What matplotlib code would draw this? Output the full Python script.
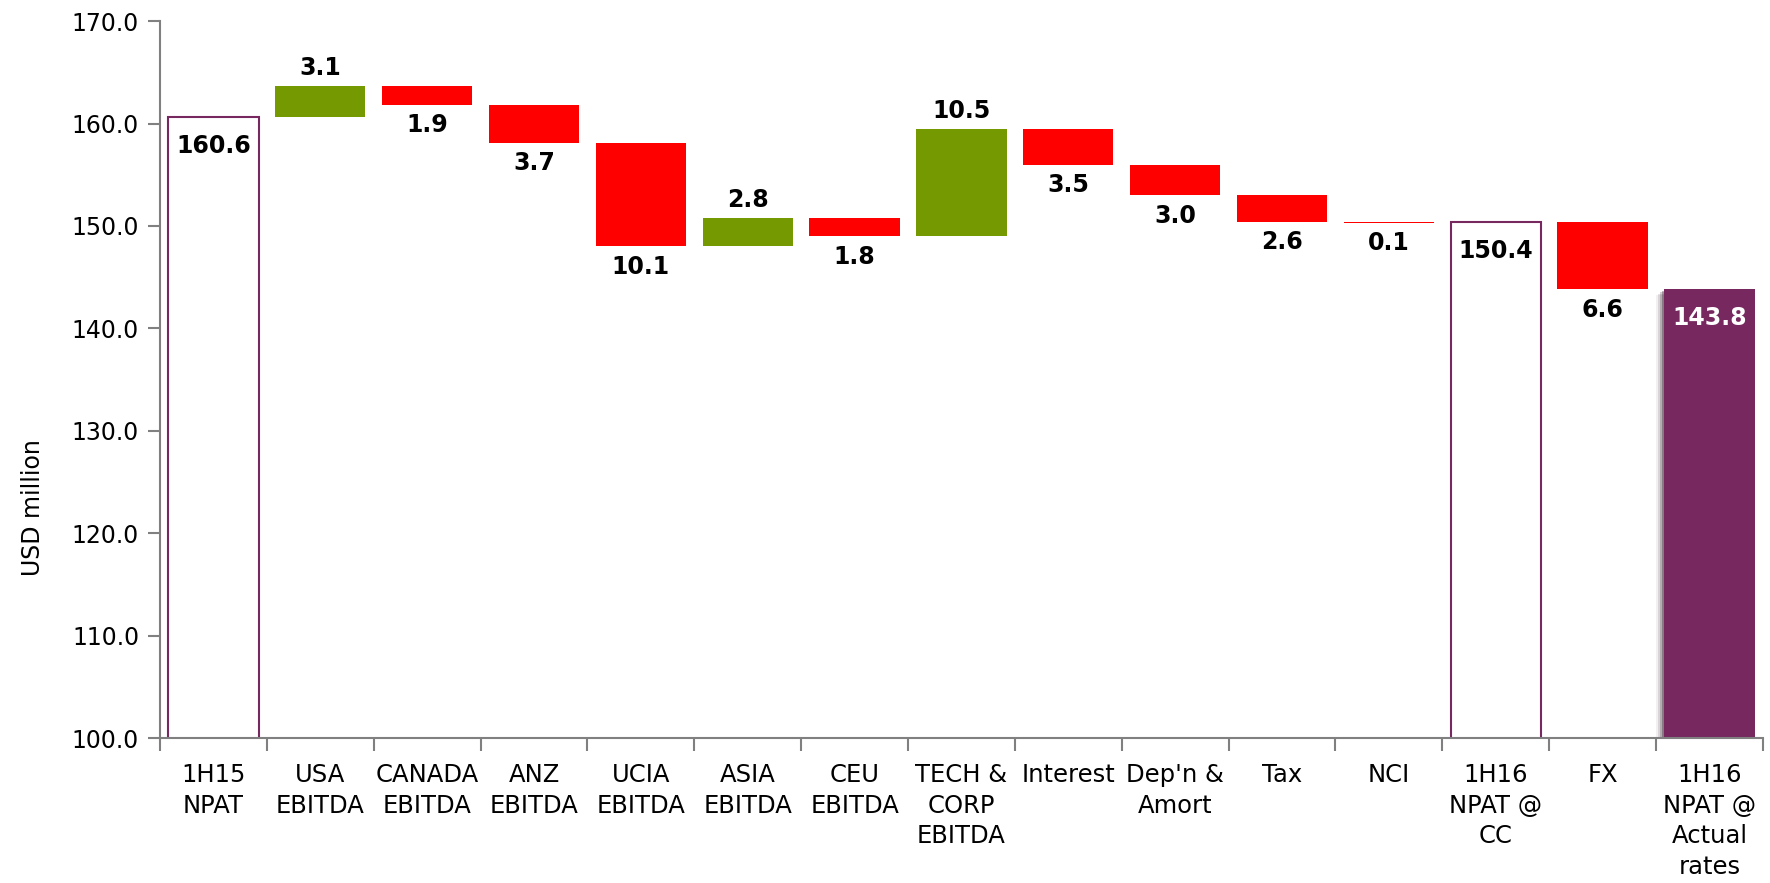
import numpy as np
import matplotlib.pyplot as plt
import matplotlib.patheffects as pe
from matplotlib.ticker import FixedLocator, FormatStrFormatter

# ---------------------------------------------------------------
# data: waterfall from 1H15 NPAT to 1H16 NPAT

categories = ["1H15\nNPAT", "USA\nEBITDA", "CANADA\nEBITDA", "ANZ\nEBITDA", "UCIA\nEBITDA",
              "ASIA\nEBITDA", "CEU\nEBITDA", "TECH &\nCORP\nEBITDA", "Interest", "Dep'n &\nAmort",
              "Tax", "NCI", "1H16\nNPAT @\nCC", "FX", "1H16\nNPAT @\nActual\nrates"]
values = [160.6, 3.1, -1.9, -3.7, -10.1, 2.8, -1.8, 10.5, -3.5, -3.0, -2.6, -0.1, 150.4, -6.6, 143.8]
kinds = ["total", "delta", "delta", "delta", "delta", "delta", "delta", "delta", "delta", "delta",
         "delta", "delta", "total", "delta", "final"]

GREEN = "#759900"
RED = "#FF0000"
PURPLE = "#76285F"

plt.rcParams['font.family'] = ['DejaVu Sans']

fig = plt.figure(figsize=(17.7, 8.83), dpi=100)
ax = fig.add_axes([0.0904, 0.1642, 0.9056, 0.8118])

x = np.arange(len(categories))
w = 0.845
running = 0.0
for i, (v, k) in enumerate(zip(values, kinds)):
    if k == "total":
        ax.bar(i, v, w, color="white", edgecolor=PURPLE, linewidth=1.5, zorder=2)
        ax.annotate("%.1f" % v, (i, v), xytext=(0, -12), textcoords="offset points",
                    ha="center", va="top", fontsize=17, fontweight="bold")
        running = v
    elif k == "final":
        # soft drop shadow on the left, like the original
        shadow = [pe.SimplePatchShadow(offset=(-1.5, -1), alpha=0.3),
                  pe.SimplePatchShadow(offset=(-3, -2), alpha=0.2),
                  pe.SimplePatchShadow(offset=(-4.5, -3), alpha=0.12),
                  pe.SimplePatchShadow(offset=(-6, -4), alpha=0.06),
                  pe.Normal()]
        ax.bar(i, v, w, color=PURPLE, linewidth=0, zorder=2, path_effects=shadow)
        ax.annotate("%.1f" % v, (i, v), xytext=(0, -12), textcoords="offset points",
                    ha="center", va="top", fontsize=17, fontweight="bold", color="white")
        running = v
    else:
        bottom = min(running, running + v)
        col = GREEN if v > 0 else RED
        ax.bar(i, abs(v), w, bottom=bottom, color=col, linewidth=0, zorder=2)
        if v > 0:
            ax.annotate("%.1f" % v, (i, running + v), xytext=(0, 4), textcoords="offset points",
                        ha="center", va="bottom", fontsize=17, fontweight="bold")
        else:
            ax.annotate("%.1f" % abs(v), (i, running + v), xytext=(0, -6), textcoords="offset points",
                        ha="center", va="top", fontsize=17, fontweight="bold")
        running += v

ax.set_xlim(-0.5, len(categories) - 0.5)
ax.set_ylim(100, 170)
ax.set_yticks(np.arange(100, 171, 10))
ax.yaxis.set_major_formatter(FormatStrFormatter("%.1f"))
ax.set_xticks(x)
ax.set_xticklabels(categories, fontsize=17.5, linespacing=1.35)
ax.xaxis.set_minor_locator(FixedLocator(np.arange(-0.5, len(categories), 1.0)))
ax.tick_params(axis="x", which="major", length=0, pad=18)
ax.tick_params(axis="x", which="minor", length=9, width=1.5, color="#808080", direction="out")
ax.tick_params(axis="y", length=9, width=1.5, color="#808080", labelsize=17, pad=6)
ax.set_ylabel("USD million", fontsize=17)
ax.yaxis.set_label_coords(-0.072, 0.322)

for s in ["top", "right"]:
    ax.spines[s].set_visible(False)
for s in ["left", "bottom"]:
    ax.spines[s].set_color("#808080")
    ax.spines[s].set_linewidth(1.5)

fig.savefig("out.png", dpi=100)
